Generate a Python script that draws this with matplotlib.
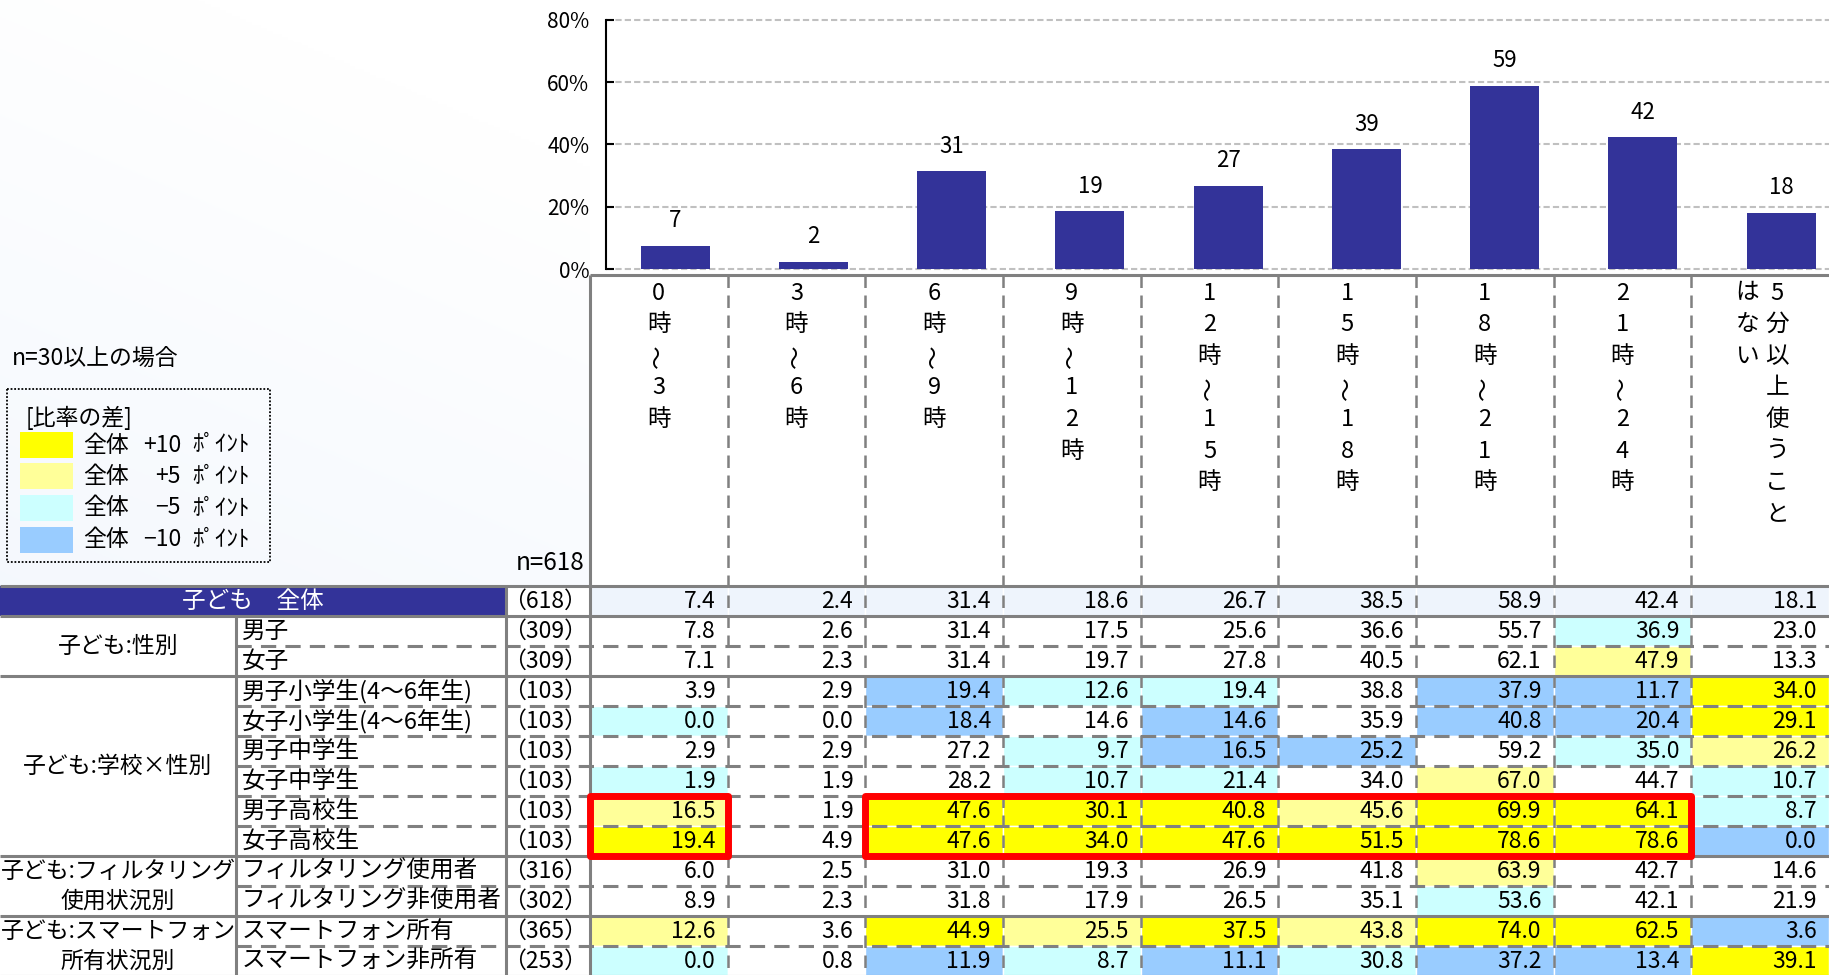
import math
import numpy as np
import matplotlib
matplotlib.use("Agg")
import matplotlib.pyplot as plt
from matplotlib.patches import Rectangle

plt.rcParams['font.family'] = ['Noto Sans CJK JP', 'DejaVu Sans']

# ---------------- data ----------------
categories = ["0時～3時", "3時～6時", "6時～9時", "9時～12時", "12時～15時",
              "15時～18時", "18時～21時", "21時～24時", "5分以上使うことはない"]
total_label = "子ども　全体"
total_n = 618
total_values = [7.4, 2.4, 31.4, 18.6, 26.7, 38.5, 58.9, 42.4, 18.1]

group_labels = ["子ども:性別", "子ども:学校×性別",
                "子ども:フィルタリング\n使用状況別", "子ども:スマートフォン\n所有状況別"]
group_sizes = [2, 6, 2, 2]
row_labels = ["男子", "女子", "男子小学生(4～6年生)", "女子小学生(4～6年生)",
              "男子中学生", "女子中学生", "男子高校生", "女子高校生",
              "フィルタリング使用者", "フィルタリング非使用者",
              "スマートフォン所有", "スマートフォン非所有"]
row_n = [309, 309, 103, 103, 103, 103, 103, 103, 316, 302, 365, 253]
values = [
    [7.8, 2.6, 31.4, 17.5, 25.6, 36.6, 55.7, 36.9, 23.0],
    [7.1, 2.3, 31.4, 19.7, 27.8, 40.5, 62.1, 47.9, 13.3],
    [3.9, 2.9, 19.4, 12.6, 19.4, 38.8, 37.9, 11.7, 34.0],
    [0.0, 0.0, 18.4, 14.6, 14.6, 35.9, 40.8, 20.4, 29.1],
    [2.9, 2.9, 27.2, 9.7, 16.5, 25.2, 59.2, 35.0, 26.2],
    [1.9, 1.9, 28.2, 10.7, 21.4, 34.0, 67.0, 44.7, 10.7],
    [16.5, 1.9, 47.6, 30.1, 40.8, 45.6, 69.9, 64.1, 8.7],
    [19.4, 4.9, 47.6, 34.0, 47.6, 51.5, 78.6, 78.6, 0.0],
    [6.0, 2.5, 31.0, 19.3, 26.9, 41.8, 63.9, 42.7, 14.6],
    [8.9, 2.3, 31.8, 17.9, 26.5, 35.1, 53.6, 42.1, 21.9],
    [12.6, 3.6, 44.9, 25.5, 37.5, 43.8, 74.0, 62.5, 3.6],
    [0.0, 0.8, 11.9, 8.7, 11.1, 30.8, 37.2, 13.4, 39.1],
]
# highlighted blocks: (first row, last row, first col, last col)
highlights = [(6, 7, 0, 0), (6, 7, 2, 7)]
legend_title = "[比率の差]"
legend_deltas = ["+10", "+5", "−5", "−10"]
note_text = "n=30以上の場合"
y_ticks = [0, 20, 40, 60, 80]

# ---------------- styles ----------------
C_YEL, C_LYEL, C_LCYAN, C_BLUE = "#FFFF00", "#FFFF99", "#CCFFFF", "#99CCFF"
legend_colors = [C_YEL, C_LYEL, C_LCYAN, C_BLUE]
NAVY = "#333399"
GRID = "#808080"
TOTAL_BG = "#EEF4FC"

W, H = 1829, 975
fig = plt.figure(figsize=(W / 100, H / 100), dpi=100)

# table axes: x in column units, y in row units (downwards)
TL = 590      # left edge of data columns (px)
TT = 586      # top of body rows (px)
CW = (W - TL) / 9
RH = 30.0


def X(px):
    return (px - TL) / CW


def Y(py):
    return (py - TT) / RH


ax = fig.add_axes([0, 0, 1, 1])
ax.axis('off')

# soft gradient background at upper-left
gy, gx = np.mgrid[0:1:200j, 0:1:200j]
t = np.clip(0.7 * gy + 0.3 * (1 - gx) - 0.2, 0, 1)
base = np.array([0.95, 0.967, 0.993])
grad = (1 - t)[..., None] * np.ones(3) + t[..., None] * base
ax.imshow(grad, extent=(X(0), 0, 0, Y(0)), origin='upper', aspect='auto', zorder=0)

ax.set_xlim(X(0), X(W))
ax.set_ylim(Y(H), Y(0))

ncol = len(categories)
nrow = len(row_labels)
HDR_TOP = Y(275)

# header data area white
ax.add_patch(Rectangle((0, HDR_TOP), ncol, -HDR_TOP, facecolor='white', edgecolor='none', zorder=1))
# left body area white
ax.add_patch(Rectangle((X(0), 1), -X(0), nrow, facecolor='white', edgecolor='none', zorder=1))
ax.add_patch(Rectangle((X(506), 0), -X(506), 1, facecolor='white', edgecolor='none', zorder=1))
# total label cell
ax.add_patch(Rectangle((X(0), 0), X(506) - X(0), 1, facecolor=NAVY, edgecolor='none', zorder=1))


def cell_color(v, b):
    d = round(v - b, 1)
    if d >= 10:
        return C_YEL
    if d >= 5:
        return C_LYEL
    if d <= -10:
        return C_BLUE
    if d <= -5:
        return C_LCYAN
    return 'white'


FS_NUM = 16.5
FS_LAB = 17
FS_GRP = 16.5
# total row
for j, v in enumerate(total_values):
    ax.add_patch(Rectangle((j, 0), 1, 1, facecolor=TOTAL_BG, edgecolor='white', lw=1, zorder=1))
    ax.text(j + 1 - X(TL + 12), 0.5, f"{v:.1f}", ha='right', va='center', fontsize=FS_NUM, zorder=5)
ax.text((X(0) + X(506)) / 2, 0.5, total_label, ha='center', va='center', color='white',
        fontsize=FS_LAB, zorder=5)
ax.text(X(TL - 3), 0.5, f"（{total_n}）", ha='right', va='center', fontsize=FS_NUM, zorder=5)

# body rows
for i, (lab, n, row) in enumerate(zip(row_labels, row_n, values)):
    y0 = i + 1
    for j, v in enumerate(row):
        ax.add_patch(Rectangle((j, y0), 1, 1, facecolor=cell_color(v, total_values[j]),
                               edgecolor='white', lw=1, zorder=1))
        ax.text(j + 1 - X(TL + 12), y0 + 0.5, f"{v:.1f}", ha='right', va='center',
                fontsize=FS_NUM, zorder=5)
    ax.text(X(242), y0 + 0.5, lab, ha='left', va='center', fontsize=FS_LAB, zorder=5)
    ax.text(X(TL - 3), y0 + 0.5, f"（{n}）", ha='right', va='center', fontsize=FS_NUM, zorder=5)

# group labels and separators
LINE_W = 2.2
DASH = (0, (5, 3))
start = 1
for g, size in zip(group_labels, group_sizes):
    lines = g.split("\n")
    mid = start + size / 2
    for k, ln in enumerate(lines):
        yc = mid + (k - (len(lines) - 1) / 2)
        ax.text(X(118), yc, ln, ha='center', va='center', fontsize=FS_GRP, zorder=5)
    for k in range(1, size):
        ax.hlines(start + k, X(236), ncol, colors=GRID, lw=LINE_W, linestyles=DASH, zorder=3)
    start += size
    ax.hlines(start, X(0), ncol, colors=GRID, lw=LINE_W, zorder=3)

ax.hlines([0, 1], X(0), ncol, colors=GRID, lw=LINE_W, zorder=3)
ax.hlines(HDR_TOP, 0, ncol, colors=GRID, lw=LINE_W, zorder=3)
ax.vlines(0, HDR_TOP, nrow + 1, colors=GRID, lw=LINE_W, zorder=3)
ax.vlines(X(506), 0, nrow + 1, colors=GRID, lw=LINE_W, zorder=3)
ax.vlines(X(236), 1, nrow + 1, colors=GRID, lw=LINE_W, zorder=3)
ax.vlines(np.arange(1, ncol), HDR_TOP, nrow + 1, colors=GRID, lw=1.8, linestyles=DASH, zorder=3)

# highlight boxes
for r0, r1, c0, c1 in highlights:
    ax.add_patch(Rectangle((c0, r0 + 1), c1 - c0 + 1, r1 - r0 + 1, fill=False,
                           edgecolor='#FF0000', lw=5, joinstyle='round', zorder=6))

# vertical header labels
FS_HDR = 17
for j, cat in enumerate(categories):
    chunks = [cat[i:i + 8] for i in range(0, len(cat), 8)]
    nc = len(chunks)
    for k, chunk in enumerate(chunks):
        off = ((nc - 1) / 2 * 30 - k * 30 + (2 if nc > 1 else 0)) / CW
        for m, ch in enumerate(chunk):
            rot = 90 if ch == "～" else 0
            ax.text(j + 0.5 + off, Y(293 + m * 31.6), ch, ha='center', va='center',
                    fontsize=FS_HDR, rotation=rot, zorder=5)

ax.text(X(584), Y(563), f"n={total_n}", ha='right', va='center', fontsize=17.5, zorder=5)

# note + legend
FS_LEG = 16.5
ax.text(X(12), Y(359), note_text, ha='left', va='center', fontsize=16.5, zorder=5)
ax.add_patch(Rectangle((X(7), Y(389)), X(270) - X(7), Y(562) - Y(389), fill=False,
                       edgecolor='black', lw=1.3, linestyle=(0, (1, 1)), zorder=4))
ax.text(X(26), Y(418), legend_title, ha='left', va='center', fontsize=FS_LEG, zorder=5)
for k, (d, c) in enumerate(zip(legend_deltas, legend_colors)):
    top = 432 + k * 31.5
    ax.add_patch(Rectangle((X(20), Y(top)), X(73) - X(20), Y(top + 26) - Y(top),
                           facecolor=c, edgecolor='none', zorder=4))
    yc = Y(top + 13)
    ax.text(X(83), yc, "全体", ha='left', va='center', fontsize=FS_LEG, zorder=5)
    ax.text(X(181), yc, d, ha='right', va='center', fontsize=FS_LEG, zorder=5)
    ax.text(X(192), yc, "ﾎﾟｲﾝﾄ", ha='left', va='center', fontsize=FS_LEG, zorder=5)

# ---------------- bar chart ----------------
AX_L, AX_0, AX_80 = 606, 269, 20
STEP = 138.25
bx = fig.add_axes([AX_L / W, (H - AX_0) / H, (W - AX_L) / W, (AX_0 - AX_80) / H])
bx.set_facecolor('none')
xs = np.arange(ncol)
bx.bar(xs, total_values, width=0.5, color=NAVY, zorder=3)
bx.set_xlim(-0.5, -0.5 + (W - AX_L) / STEP)
bx.set_ylim(0, 80)
bx.set_yticks(y_ticks, [f"{v}%" for v in y_ticks])
bx.set_xticks([])
bx.set_axisbelow(True)
bx.grid(axis='y', color='#C0C0C0', linestyle=(0, (3, 1.5)), lw=1.5)
for s in ['top', 'right', 'bottom']:
    bx.spines[s].set_visible(False)
bx.spines['left'].set_linewidth(1.5)
bx.tick_params(axis='y', direction='in', length=6, width=1.5, labelsize=15, pad=12)
for gl in bx.get_ygridlines():
    gl.set_clip_on(False)
for x, v in zip(xs, total_values):
    bx.annotate(f"{math.floor(v + 0.5)}", (x, v), xytext=(0, 18), textcoords='offset points',
                ha='center', va='center', fontsize=16)

fig.savefig("out.png", dpi=100)
